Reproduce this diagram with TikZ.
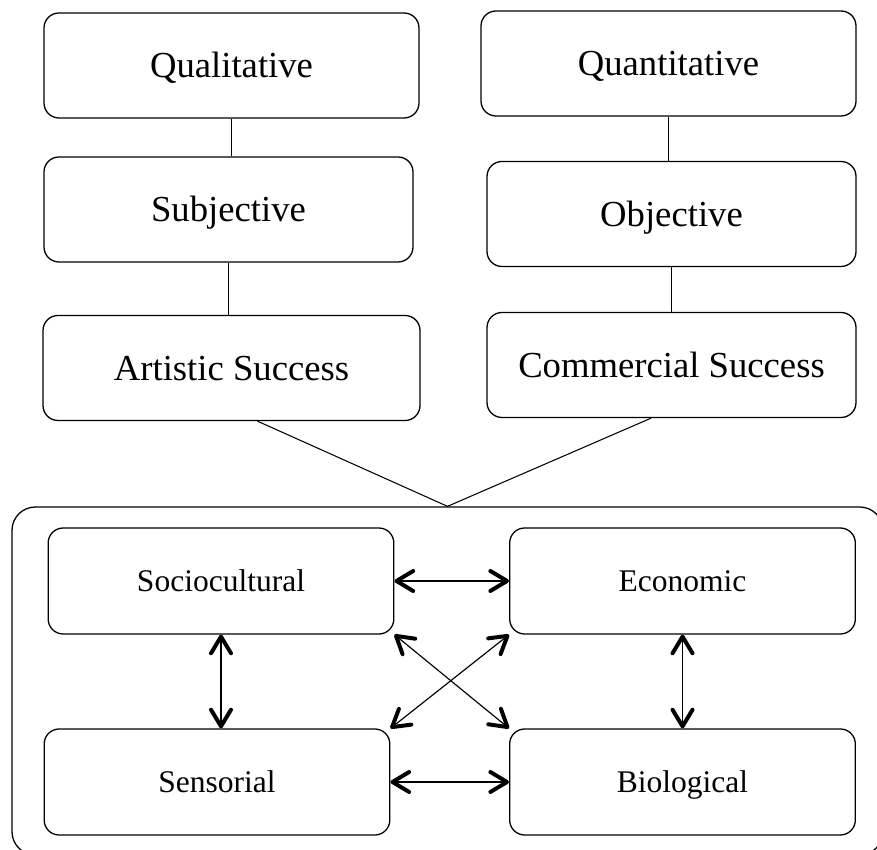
\documentclass[tikz,border=0pt]{standalone}
\usepackage{fontspec}
\setmainfont{Liberation Serif}
\usetikzlibrary{arrows.meta}
\begin{document}
\begin{tikzpicture}[
    box/.style={draw,line width=1.1pt,rounded corners=0.45cm,text height=20.7pt,text depth=0pt,font=\fontsize{31.3}{36}\selectfont},
    factor/.style={draw,line width=1.1pt,rounded corners=0.45cm,minimum width=10.37cm,minimum height=3.18cm,text height=17.8pt,text depth=0pt,font=\fontsize{26.9}{31}\selectfont},
    frame/.style={draw,line width=1.1pt,rounded corners=0.7cm},
    link/.style={line width=0.9pt},
    rel/.style={line width=1pt,{Straight Barb[length=0.5cm,width=0.6cm,line width=3.4pt,round]}-{Straight Barb[length=0.5cm,width=0.6cm,line width=3.4pt,round]}}
  ]
    \clip (0,0) rectangle (26.31,25.47);

    \begin{scope}[minimum height=3.15cm]
      \node[box,minimum width=11.25cm] (Qual) at (6.945 ,23.505) {Qualitative};
      \node[box,minimum width=11.07cm] (Subj) at (6.855 ,19.185) {Subjective};
      \node[box,minimum width=11.31cm] (Art)  at (6.945 ,14.43)  {Artistic Success};
      \node[box,minimum width=11.25cm] (Quan) at (20.055,23.565) {Quantitative};
      \node[box,minimum width=11.07cm] (Obj)  at (20.145,19.05)  {Objective};
      \node[box,minimum width=11.07cm] (Comm) at (20.145,14.52)  {Commercial Success};
    \end{scope}

    \node[frame,minimum width=26.13cm,minimum height=10.44cm] (Frame) at (13.425,5.04) {};

    \node[factor] (Soc) at (6.63  ,8.04) {Sociocultural};
    \node[factor] (Eco) at (20.475,8.04) {Economic};
    \node[factor] (Sen) at (6.51  ,2.01) {Sensorial};
    \node[factor] (Bio) at (20.475,2.01) {Biological};

    \draw[link] (Qual.south) -- (Qual.south |- Subj.north);
    \draw[link] (Subj.south) -- (Subj.south |- Art.north);
    \draw[link] (Quan.south) -- (Quan.south |- Obj.north);
    \draw[link] (Obj.south)  -- (Obj.south |- Comm.north);
    \draw[link] (Art.-64) -- (Frame.north) -- (Comm.-111);

    \draw[rel] (Soc) -- (Eco);
    \draw[rel] (Sen) -- (Bio);
    \draw[rel] (Soc.south) -- (Soc.south |- Sen.north);
    \draw[rel] (Eco) -- (Bio);
    \draw[rel] (Soc.south east) -- (Bio.north west);
    \draw[rel] (Eco.south west) -- (Sen.north east);
  \end{tikzpicture}
\end{document}
